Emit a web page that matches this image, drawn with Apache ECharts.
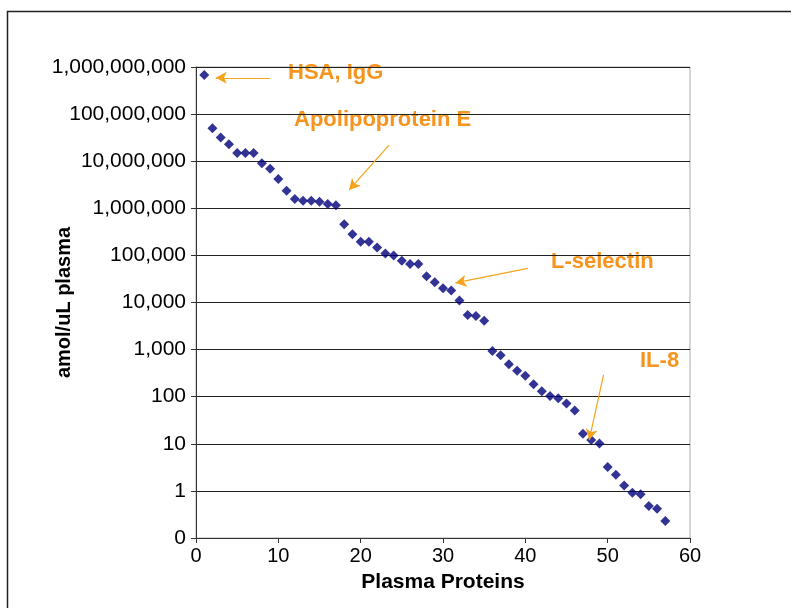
<!DOCTYPE html>
<html>
<head>
<meta charset="utf-8">
<script src="https://cdn.jsdelivr.net/npm/echarts@6/dist/echarts.min.js"></script>
<style>
  html, body { margin: 0; padding: 0; background: #fff; }
  #main { width: 791px; height: 608px; }
</style>
</head>
<body>
<div id="main"></div>
<script>
// protein rank (x) and abundance in amol/uL plasma (y, log scale)
const proteinRank = [
  1, 2, 3, 4, 5, 6, 7, 8, 9, 10,
  11, 12, 13, 14, 15, 16, 17, 18, 19, 20,
  21, 22, 23, 24, 25, 26, 27, 28, 29, 30,
  31, 32, 33, 34, 35, 36, 37, 38, 39, 40,
  41, 42, 43, 44, 45, 46, 47, 48, 49, 50,
  51, 52, 53, 54, 55, 56, 57
];
const abundance = [
  6.8e8, 5.0e7, 3.2e7, 2.3e7, 1.5e7, 1.5e7, 1.5e7, 9.0e6, 6.9e6, 4.2e6,
  2.35e6, 1.58e6, 1.45e6, 1.45e6, 1.37e6, 1.24e6, 1.16e6, 4.6e5, 2.8e5, 1.95e5,
  1.95e5, 1.48e5, 1.1e5, 1.0e5, 7.7e4, 6.6e4, 6.6e4, 3.6e4, 2.7e4, 2.0e4,
  1.8e4, 1.1e4, 5.4e3, 5.2e3, 4.1e3, 930, 760, 490, 355, 280,
  183, 130, 103, 93, 72, 51, 16.4, 12, 10.2, 3.2,
  2.2, 1.3, 0.91, 0.85, 0.48, 0.42, 0.23
];

// annotation arrows: [fromX, fromY, toX, toY] in data units
const arrowHSA = [9.0, 5.9e8, 2.4, 5.9e8];
const arrowApoE = [23.45, 2.2e7, 18.6, 2.45e6];
const arrowLsel = [40.3, 5.3e4, 31.5, 2.6e4];
const arrowIL8 = [49.5, 290, 47.75, 12];

const annotationLabels = ['HSA, IgG', 'Apolipoprotein E', 'L-selectin', 'IL-8'];

const chart = echarts.init(document.getElementById('main'));

const toLine = (a) => [
  { coord: [a[0], a[1]] },
  { coord: [a[2], a[3]] }
];

const labelStyle = {
  fill: '#F7941D',
  font: 'bold 22px "Liberation Sans", Arial, sans-serif',
  textVerticalAlign: 'middle'
};

const option = {
  animation: false,
  backgroundColor: '#fff',
  grid: {
    left: 196,
    right: 101,
    top: 67,
    bottom: 70,
    show: true,
    borderColor: '#aaa',
    borderWidth: 1
  },
  xAxis: {
    type: 'value',
    min: 0,
    max: 60,
    interval: 10,
    name: 'Plasma Proteins',
    nameLocation: 'middle',
    nameGap: 34,
    nameTextStyle: {
      fontFamily: 'Liberation Sans',
      fontWeight: 'bold',
      fontSize: 21,
      color: '#000'
    },
    axisLine: { show: true, onZero: false, lineStyle: { color: '#333', width: 1 } },
    axisTick: { show: true, inside: false, length: 5, lineStyle: { color: '#333' } },
    axisLabel: {
      fontFamily: 'Liberation Sans',
      fontSize: 20,
      color: '#000',
      margin: 8
    },
    splitLine: { show: false }
  },
  yAxis: {
    type: 'log',
    logBase: 10,
    min: 0.1,
    max: 1e9,
    interval: 1,
    name: 'amol/uL plasma',
    nameLocation: 'middle',
    nameGap: 122,
    nameMoveOverlap: false,
    nameTextStyle: {
      fontFamily: 'Liberation Sans',
      fontWeight: 'bold',
      fontSize: 20,
      color: '#000'
    },
    axisLine: { show: true, lineStyle: { color: '#333', width: 1 } },
    axisTick: { show: true, inside: false, length: 5, lineStyle: { color: '#333' } },
    axisLabel: {
      fontFamily: 'Liberation Sans',
      fontSize: 21,
      color: '#000',
      margin: 10,
      formatter: (v) => Math.round(v).toLocaleString('en-US')
    },
    minorTick: { show: false },
    splitLine: { show: true, lineStyle: { color: '#222', width: 1 } }
  },
  series: [{
    type: 'scatter',
    data: proteinRank.map((x, i) => [x, abundance[i]]),
    symbol: 'diamond',
    symbolSize: 10,
    itemStyle: { color: '#00007A' },
    markLine: {
      silent: true,
      symbol: ['none', 'arrow'],
      symbolSize: [9, 11],
      label: { show: false },
      lineStyle: { color: '#F5A31A', width: 1.2, type: 'solid' },
      data: [
        toLine(arrowHSA),
        toLine(arrowApoE),
        toLine(arrowLsel),
        toLine(arrowIL8)
      ]
    }
  }],
  graphic: [
    {
      type: 'rect',
      shape: { x: 7.5, y: 11.5, width: 820, height: 640 },
      style: { fill: 'none', stroke: '#222', lineWidth: 1.5 },
      silent: true
    },
    { type: 'text', left: 288, top: 62, style: Object.assign({ text: annotationLabels[0] }, labelStyle) },
    { type: 'text', left: 294, top: 109, style: Object.assign({ text: annotationLabels[1] }, labelStyle) },
    { type: 'text', left: 551, top: 251, style: Object.assign({ text: annotationLabels[2] }, labelStyle) },
    { type: 'text', left: 640, top: 350, style: Object.assign({ text: annotationLabels[3] }, labelStyle) }
  ]
};

chart.setOption(option);
window.addEventListener('resize', () => chart.resize());
</script>
</body>
</html>
